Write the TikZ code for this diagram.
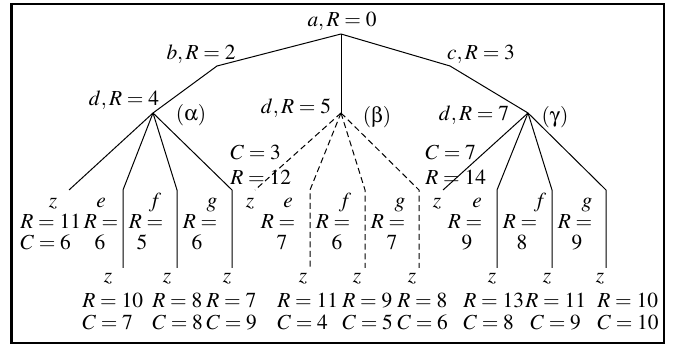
\documentclass[tikz,border=0pt]{standalone}
\usepackage{mathptmx}
\usepackage[Symbol]{upgreek}
\usepackage{tikz}
\usetikzlibrary{positioning}
\tikzset{
  branch/.style={line width=0.5pt},
  pruned/.style={branch, dash pattern=on 3pt off 1.8pt},
  lbl/.style={anchor=base, inner sep=0pt},
  lblw/.style={lbl, anchor=base west},
}

\begin{document}
\begin{tikzpicture}[x=0.5pt, y=-0.5pt, font=\fontsize{10.7}{12}\selectfont]
  \useasboundingbox (0,0) rectangle (673,346);
  \draw[line width=1.1pt] (11.5,4) rectangle (664,343);
  % tree skeleton
  \coordinate (a) at (341,34);
  \coordinate (b) at (217,66);
  \coordinate (c) at (450,66);
  \coordinate (dA) at (153,113);
  \coordinate (dB) at (341,113);
  \coordinate (dC) at (528,113);
  \draw[branch] (a) -- (b) -- (dA);
  \draw[branch] (a) -- (dB);
  \draw[branch] (a) -- (c) -- (dC);
  % children of the three d nodes
  \foreach \d/\s/\xz/\xe/\xf/\xg in {dA/branch/69/123/177/232,
      dB/pruned/255/310/365/419, dC/branch/443/497/552/606}
  {
    \coordinate (\d z) at (\xz,190);
    \draw[\s] (\d) -- (\d z);
    \foreach \k/\x in {e/\xe, f/\xf, g/\xg} {
      \coordinate (\d\k) at (\x,190);
      \coordinate (\d\k z) at (\x,268);
      \draw[\s] (\d) -- (\d\k) -- (\d\k z);
    }
  }
  % upper labels
  \node[lbl] (la) at (342,27) {$a,R=0$};
  \node[lbl] (lb) at (201,60) {$b,R=2$};
  \node[lbl] (lc) at (481,60) {$c,R=3$};
  \node[lbl] (ldA) at (124,106) {$d,R=4$};
  \node[lbl] (ldB) at (296,114) {$d,R=5$};
  \node[lbl] (ldC) at (474,121) {$d,R=7$};
  \node[lbl] (tA) at (191,121) {$(\upalpha)$};
  \node[lbl] (tB) at (377,123) {$(\upbeta)$};
  \node[lbl] (tC) at (555,123) {$(\upgamma)$};
  % costs of the pruned z branches
  \node[lblw] (cB) at (230,160) {$C=3$};
  \node[lblw] (rB) at (230,185) {$R=12$};
  \node[lblw] (cC) at (425,160) {$C=7$};
  \node[lblw] (rC) at (425,185) {$R=14$};
  % first row: z, e, f, g
  \foreach \n/\x/\t in {1/53/z, 2/101/e, 3/155/f, 4/212/g, 5/250/z, 6/288/e,
      7/345/f, 8/400/g, 9/437/z, 10/477/e, 11/540/f, 12/587/g}
    \node[lbl] (top\n) at (\x,208) {$\t$};
  \node[lblw] (rz) at (20,229) {$R=11$};
  \node[lblw] (cz) at (20,250) {$C=6$};
  \foreach \n/\xr/\xv/\v in {1/101/100/6, 2/146/142/5, 3/200/197/6,
      4/278/282/7, 5/333/337/6, 6/388/392/7,
      7/465/467/9, 8/520/522/8, 9/575/577/9}
  {
    \node[lbl] (req\n) at (\xr,229) {$R=$};
    \node[lbl] (val\n) at (\xv,250) {$\v$};
  }
  % leaves
  \foreach \n/\x/\xr/\xc/\r/\c in {1/108/82/82/10/7, 2/167/152/152/8/8,
      3/227/206/206/7/9, 4/303/277/277/11/4, 5/357/342/342/9/5,
      6/412/397/397/8/6, 7/492/463/463/13/8, 8/547/525/530/11/9,
      9/600/597/597/10/10}
  {
    \node[lbl] (leaf\n) at (\x,283) {$z$};
    \node[lblw] (lr\n) at (\xr,308) {$R=\r$};
    \node[lblw] (lc\n) at (\xc,330) {$C=\c$};
  }
\end{tikzpicture}
\end{document}
